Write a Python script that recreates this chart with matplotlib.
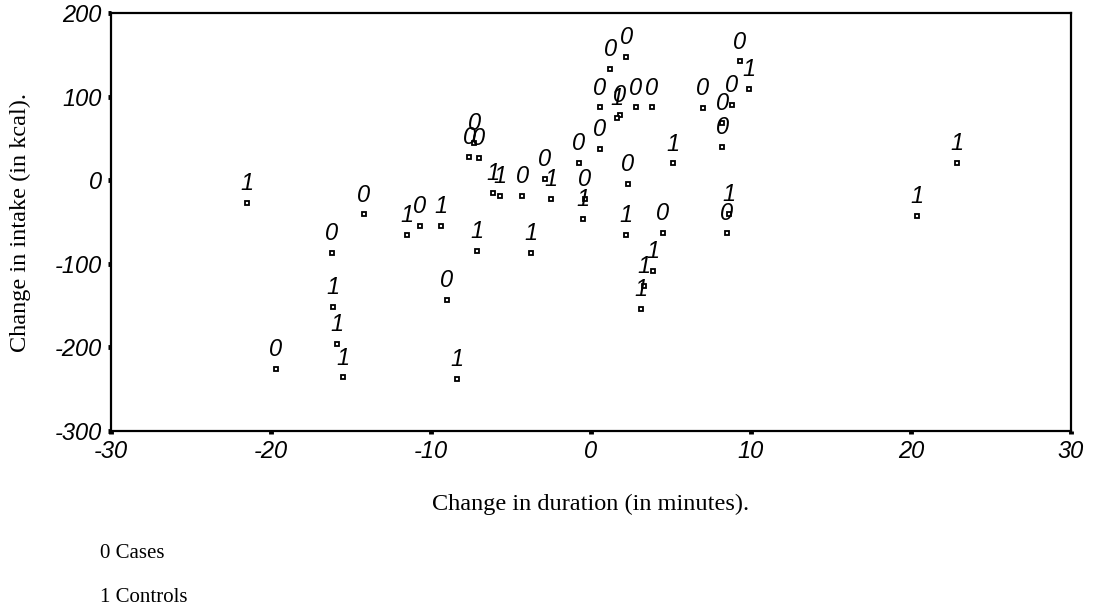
import matplotlib
matplotlib.use("Agg")
import matplotlib.pyplot as plt

# Cases (group 0): change in duration (min) vs change in intake (kcal)
cases_x = [-19.7, -16.2, -14.2, -10.7, -9.0, -7.6, -7.0, -7.3, -4.3, -2.9,
           -0.75, -0.4, 0.55, 0.55, 1.2, 2.2, 1.8, 2.8, 3.8, 2.3,
           4.5, 7.0, 8.2, 8.2, 8.8, 9.3, 8.5]
cases_y = [-226, -87, -41, -55, -143, 28, 27, 45, -19, 1,
           21, -22, 37, 87, 133, 147, 78, 87, 87, -4,
           -63, 86, 69, 40, 90, 142, -63]

# Controls (group 1)
controls_x = [-21.5, -16.1, -15.9, -15.5, -11.5, -9.4, -8.4, -7.1, -6.1, -5.7,
              -3.75, -2.5, -0.5, 1.6, 2.2, 3.9, 3.3, 3.1, 5.1, 8.6,
              9.9, 20.4, 22.9]
controls_y = [-27, -152, -196, -236, -66, -55, -238, -85, -15, -19,
              -87, -23, -46, 75, -66, -109, -127, -154, 20, -40,
              109, -43, 21]

x_ticks = [-30, -20, -10, 0, 10, 20, 30]
y_ticks = [-300, -200, -100, 0, 100, 200]

fig = plt.figure(figsize=(10.97, 6.15), dpi=100)
ax = fig.add_axes([111 / 1097, 1 - 431 / 615, 960 / 1097, 418 / 615])

tick_font = dict(family="Liberation Sans", style="italic", size=17)
serif = "Liberation Serif"

# points with the group number written above each one
for xs, ys, tag in [(cases_x, cases_y, "0"), (controls_x, controls_y, "1")]:
    ax.plot(xs, ys, ls="none", marker="s", ms=3.5, mfc="white",
            mec="black", mew=1.3)
    for x, y in zip(xs, ys):
        ax.annotate(tag, (x, y), xytext=(0, 14), textcoords="offset points",
                    ha="center", va="center", fontsize=17,
                    family="Liberation Sans", style="italic")

ax.set_xlim(-30, 30)
ax.set_ylim(-300, 200)
ax.set_xticks(x_ticks)
ax.set_yticks(y_ticks)
ax.set_xticklabels([str(v) for v in x_ticks], fontdict=tick_font)
ax.set_yticklabels([str(v) for v in y_ticks], fontdict=tick_font)
ax.tick_params(direction="out", length=2.5, width=3.5, color="black", pad=4)

for side in ax.spines.values():
    side.set_linewidth(1.6)
    side.set_color("black")

fig.text(20 / 1097, 1 - 222 / 615, "Change in intake (in kcal).", rotation=90,
         ha="center", va="center", family=serif, fontsize=17.5)
fig.text(591 / 1097, 1 - 504 / 615, "Change in duration (in minutes).",
         ha="center", va="center", family=serif, fontsize=17.5)
fig.text(100 / 1097, 1 - 553 / 615, "0 Cases", ha="left", va="center",
         family=serif, fontsize=15)
fig.text(100 / 1097, 1 - 598 / 615, "1 Controls", ha="left", va="center",
         family=serif, fontsize=15)

fig.savefig("out.png", dpi=100)
